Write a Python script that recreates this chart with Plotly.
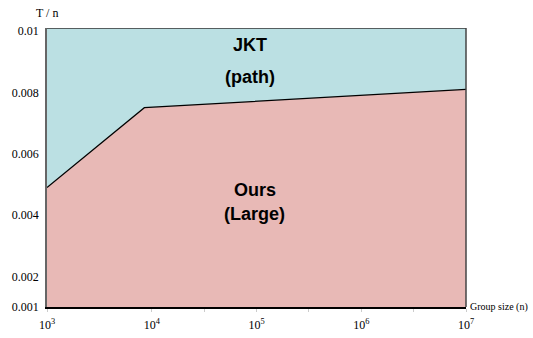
import plotly.graph_objects as go

# Group sizes (n) and per-element cost T/n
group_size = [1e3, 8.5e3, 1e7]
ours_large = [0.0049, 0.0075, 0.0081]
jkt_path_top = [0.0101, 0.0101, 0.0101]

y_ticks = [0.001, 0.002, 0.004, 0.006, 0.008, 0.01]
y_tick_text = ["0.001", "0.002", "0.004", "0.006", "0.008", "0.01"]
x_ticks = [1e3, 1e4, 10**4.5, 1e5, 10**5.5, 1e6, 10**6.5, 1e7]
x_tick_text = ["10<sup>3</sup>", "10<sup>4</sup>", "", "10<sup>5</sup>", "",
               "10<sup>6</sup>", "", "10<sup>7</sup>"]

RED = "rgb(232,185,182)"
BLUE = "rgb(187,224,227)"
SERIF = "Liberation Serif"
SANS = "Liberation Sans"

fig = go.Figure()
fig.add_trace(go.Scatter(
    x=group_size, y=ours_large, mode="lines",
    line=dict(color="black", width=1.2),
    fill="tozeroy", fillcolor=RED, showlegend=False, hoverinfo="skip"))
fig.add_trace(go.Scatter(
    x=group_size, y=jkt_path_top, mode="lines",
    line=dict(color="#333333", width=1.5),
    fill="tonexty", fillcolor=BLUE, showlegend=False, hoverinfo="skip"))

fig.update_layout(
    width=533, height=338,
    margin=dict(l=47, r=67, t=28, b=31),
    paper_bgcolor="white", plot_bgcolor="white",
    xaxis=dict(type="log", range=[3, 7], tickvals=x_ticks, ticktext=x_tick_text,
               showgrid=False, zeroline=False, showline=True, linecolor="black",
               linewidth=1.5, ticks="outside", ticklen=3, tickcolor="#cccccc",
               ticklabelstandoff=3, automargin=False,
               tickfont=dict(family=SERIF, size=12, color="black")),
    yaxis=dict(range=[0.001, 0.0101], tickvals=y_ticks, ticktext=y_tick_text,
               showgrid=False, zeroline=False, showline=True, linecolor="#666666",
               linewidth=1.5, ticks="", ticklabelstandoff=4, automargin=False,
               tickfont=dict(family=SERIF, size=12, color="black")),
    font=dict(family=SERIF),
)

# right border of the plot area
fig.add_shape(type="line", xref="paper", yref="paper", x0=1, x1=1, y0=0, y1=1,
              line=dict(color="#444444", width=1.5))

fig.add_annotation(text="T / n", xref="paper", yref="paper", x=0, y=1,
                   xanchor="center", yanchor="bottom", yshift=6, showarrow=False,
                   font=dict(family=SERIF, size=12, color="black"))
fig.add_annotation(text="Group size (n)", xref="paper", yref="paper", x=1, y=0,
                   xanchor="left", yanchor="middle", xshift=2, showarrow=False,
                   font=dict(family=SERIF, size=10, color="black"))

# area labels
for txt, xp, yp in [("<b>JKT</b>", 0.484, 0.939), ("<b>(path)</b>", 0.484, 0.824),
                    ("<b>Ours</b>", 0.496, 0.419), ("<b>(Large)</b>", 0.496, 0.333)]:
    fig.add_annotation(text=txt, xref="paper", yref="paper", x=xp, y=yp,
                       xanchor="center", yanchor="middle",
                       showarrow=False, align="center",
                       font=dict(family=SANS, size=18, color="black"))

fig.write_html("out.html")
